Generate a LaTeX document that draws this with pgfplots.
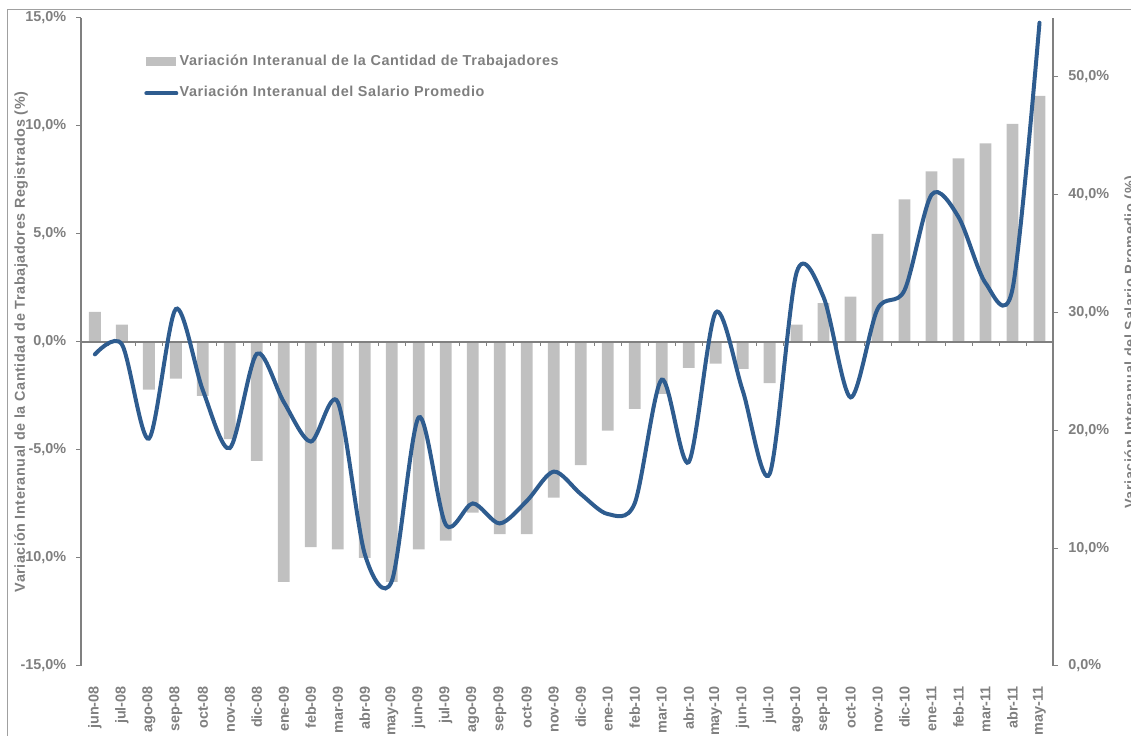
\documentclass[border=0pt]{standalone}
\usepackage{fontspec}
\setmainfont{Liberation Sans}
\newfontfamily\lsfont[LetterSpace=4.0]{Liberation Sans}
\usepackage{pgfplots}
\pgfplotsset{compat=1.18}
\definecolor{barc}{HTML}{C0C0C0}
\definecolor{linec}{HTML}{2E5C8F}
\definecolor{axg}{HTML}{808080}
\definecolor{txg}{HTML}{7F7F7F}
\definecolor{brd}{HTML}{A0A0A0}
\begin{document}
\begin{tikzpicture}
\pgfplotsset{
  common/.style={
    scale only axis, width=728.7pt, height=486pt,
    xmin=-0.5, xmax=35.5,
    /pgf/number format/assume math mode=true,
    font=\fontsize{10.8}{12.9}\selectfont\bfseries\color{txg},
    tick align=outside, major tick length=3.75pt,
    every tick/.style={axg, line width=0.75pt},
    axis line style={axg, line width=1.5pt},
    yticklabel style={inner sep=0pt},
    clip=false,
  }
}
\begin{axis}[common,
  name=main,
  axis lines*=left,
  x axis line style={draw=none},
  ymin=-15, ymax=15,
  ytick={-15,-10,...,15},
  yticklabel={\pgfmathprintnumber[fixed,fixed zerofill,precision=1,use comma]{\tick}\%},
  yticklabel shift=7.5pt,
  xtick={0,...,35},
  xtick style={draw=none},
  xticklabels={jun-08,jul-08,ago-08,sep-08,oct-08,nov-08,dic-08,ene-09,feb-09,mar-09,abr-09,may-09,jun-09,jul-09,ago-09,sep-09,oct-09,nov-09,dic-09,ene-10,feb-10,mar-10,abr-10,may-10,jun-10,jul-10,ago-10,sep-10,oct-10,nov-10,dic-10,ene-11,feb-11,mar-11,abr-11,may-11},
  xticklabel style={rotate=90, anchor=east, inner sep=0pt},
  xticklabel shift=11.25pt,
  ylabel={\lsfont\bfseries Variación Interanual de la Cantidad de Trabajadores Registrados (\%)},
  every axis y label/.style={at={([xshift=-45.3pt]axis description cs:0,0.5)}, rotate=90, anchor=center},
  legend style={at={(axis description cs:0.0645,0.9082)}, anchor=west, draw=none, fill=none,
    inner sep=0pt, row sep=13.2pt,
    nodes={inner sep=0pt, text height=8pt, text depth=2.5pt, anchor=west},
    /tikz/every odd column/.style={column sep=1pt},
    font=\fontsize{10.8}{12.9}\selectfont\lsfont\bfseries\color{txg}},
  legend cell align=left,
]
\addplot[ybar, bar width=8.85pt, bar shift=0pt, fill=barc, draw=none,
  legend image code/.code={\fill[barc] (0pt,-3.4pt) rectangle (22.5pt,3.4pt);}]
coordinates {
(0,1.4) (1,0.8) (2,-2.2) (3,-1.7) (4,-2.5) (5,-4.5) (6,-5.5) (7,-11.1) (8,-9.5) (9,-9.6)
(10,-10.0) (11,-11.1) (12,-9.6) (13,-9.2) (14,-7.9) (15,-8.9) (16,-8.9) (17,-7.2) (18,-5.7) (19,-4.1)
(20,-3.1) (21,-2.4) (22,-1.2) (23,-1.0) (24,-1.25) (25,-1.9) (26,0.8) (27,1.8) (28,2.1) (29,5.0)
(30,6.6) (31,7.9) (32,8.5) (33,9.2) (34,10.1) (35,11.4)
};
\addlegendentry{Variación Interanual de la Cantidad de Trabajadores}
\addlegendimage{legend image code/.code={\draw[linec, line width=3pt, line cap=round] (0pt,0pt) -- (22.5pt,0pt);}}
\addlegendentry{Variación Interanual del Salario Promedio}
\draw[axg, line width=1.5pt] (axis cs:-0.5,0) -- (axis cs:35.5,0);
\pgfplotsinvokeforeach{0.5,1.5,...,34.5}{\draw[axg, line width=0.75pt] (axis cs:#1,0) -- ++(0pt,-3pt);}
\end{axis}
\begin{axis}[common,
  axis x line=none,
  axis y line*=right,
  ymin=0, ymax=55,
  ytick={0,10,...,50},
  yticklabel={\pgfmathprintnumber[fixed,fixed zerofill,precision=1,use comma]{\tick}\%},
  yticklabel shift=7.5pt,
  ylabel={\lsfont\bfseries Variación Interanual del Salario Promedio (\%)},
  every axis y label/.style={at={([xshift=58.5pt]axis description cs:1,0.5)}, rotate=90, anchor=center},
]
\addplot[smooth, linec, line width=3pt, line cap=round] coordinates {
(0,26.45) (1,27.3) (2,19.3) (3,30.3) (4,23.4) (5,18.5) (6,26.5) (7,22.4) (8,19.05) (9,22.4)
(10,9.5) (11,7.2) (12,21.1) (13,12.0) (14,13.8) (15,12.1) (16,14.0) (17,16.5) (18,14.6) (19,12.9)
(20,13.8) (21,24.3) (22,17.3) (23,30.0) (24,23.4) (25,16.3) (26,33.4) (27,31.3) (28,22.8) (29,30.3)
(30,31.9) (31,40.0) (32,38.1) (33,32.5) (34,32.0) (35,54.6)
};
\end{axis}
\draw[brd, line width=0.9pt] (-55.4pt,-70pt) rectangle (820pt,492.5pt);
\pgfresetboundingbox
\useasboundingbox (-61.05pt,-51.75pt) rectangle (787.2pt,499.5pt);
\end{tikzpicture}
\end{document}
